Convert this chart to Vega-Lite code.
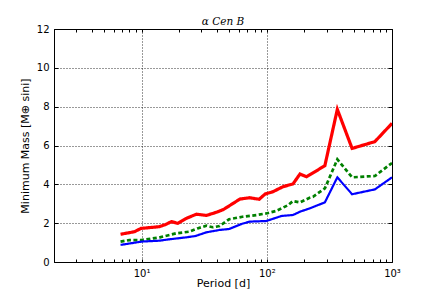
{
  "$schema": "https://vega.github.io/schema/vega-lite/v6.json",
  "autosize": "none",
  "width": 338,
  "height": 233,
  "padding": {"left": 54, "top": 29, "right": 44, "bottom": 29},
  "background": "white",
  "config": {
    "view": {"stroke": "black", "strokeWidth": 1},
    "axis": {"labelFont": "DejaVu Sans", "titleFont": "DejaVu Sans", "labelColor": "black", "titleColor": "black", "titleFontWeight": "normal", "tickColor": "black", "domain": false}
  },
  "title": {"text": "α Cen B", "font": "DejaVu Serif", "fontStyle": "italic", "fontWeight": "normal", "fontSize": 10.5, "offset": -3, "color": "black"},
  "data": {"values": [
    {"period": 6.8, "mass": 1.43, "s": "red"},
    {"period": 8.8, "mass": 1.56, "s": "red"},
    {"period": 9.9, "mass": 1.73, "s": "red"},
    {"period": 13.9, "mass": 1.82, "s": "red"},
    {"period": 15.7, "mass": 1.94, "s": "red"},
    {"period": 17.3, "mass": 2.08, "s": "red"},
    {"period": 19.5, "mass": 1.99, "s": "red"},
    {"period": 22.8, "mass": 2.25, "s": "red"},
    {"period": 27.4, "mass": 2.46, "s": "red"},
    {"period": 33, "mass": 2.4, "s": "red"},
    {"period": 40, "mass": 2.57, "s": "red"},
    {"period": 45, "mass": 2.7, "s": "red"},
    {"period": 61, "mass": 3.24, "s": "red"},
    {"period": 73, "mass": 3.31, "s": "red"},
    {"period": 87, "mass": 3.23, "s": "red"},
    {"period": 97, "mass": 3.5, "s": "red"},
    {"period": 112, "mass": 3.62, "s": "red"},
    {"period": 135, "mass": 3.88, "s": "red"},
    {"period": 162, "mass": 4.02, "s": "red"},
    {"period": 184, "mass": 4.53, "s": "red"},
    {"period": 208, "mass": 4.39, "s": "red"},
    {"period": 291, "mass": 4.96, "s": "red"},
    {"period": 366, "mass": 7.86, "s": "red"},
    {"period": 480, "mass": 5.85, "s": "red"},
    {"period": 730, "mass": 6.2, "s": "red"},
    {"period": 1000, "mass": 7.14, "s": "red"},
    {"period": 6.8, "mass": 1.05, "s": "green"},
    {"period": 8, "mass": 1.13, "s": "green"},
    {"period": 10, "mass": 1.13, "s": "green"},
    {"period": 14, "mass": 1.27, "s": "green"},
    {"period": 19, "mass": 1.48, "s": "green"},
    {"period": 24, "mass": 1.56, "s": "green"},
    {"period": 28, "mass": 1.73, "s": "green"},
    {"period": 33, "mass": 1.87, "s": "green"},
    {"period": 37, "mass": 1.79, "s": "green"},
    {"period": 42, "mass": 1.85, "s": "green"},
    {"period": 50, "mass": 2.2, "s": "green"},
    {"period": 64, "mass": 2.33, "s": "green"},
    {"period": 83, "mass": 2.42, "s": "green"},
    {"period": 99, "mass": 2.5, "s": "green"},
    {"period": 119, "mass": 2.63, "s": "green"},
    {"period": 148, "mass": 2.93, "s": "green"},
    {"period": 162, "mass": 3.14, "s": "green"},
    {"period": 184, "mass": 3.07, "s": "green"},
    {"period": 220, "mass": 3.31, "s": "green"},
    {"period": 234, "mass": 3.36, "s": "green"},
    {"period": 291, "mass": 3.79, "s": "green"},
    {"period": 366, "mass": 5.29, "s": "green"},
    {"period": 480, "mass": 4.36, "s": "green"},
    {"period": 730, "mass": 4.43, "s": "green"},
    {"period": 1000, "mass": 5.1, "s": "green"},
    {"period": 6.8, "mass": 0.88, "s": "blue"},
    {"period": 10, "mass": 1.05, "s": "blue"},
    {"period": 14, "mass": 1.1, "s": "blue"},
    {"period": 16.7, "mass": 1.17, "s": "blue"},
    {"period": 22.8, "mass": 1.27, "s": "blue"},
    {"period": 27, "mass": 1.34, "s": "blue"},
    {"period": 33, "mass": 1.53, "s": "blue"},
    {"period": 42, "mass": 1.65, "s": "blue"},
    {"period": 50, "mass": 1.7, "s": "blue"},
    {"period": 63, "mass": 1.96, "s": "blue"},
    {"period": 73, "mass": 2.08, "s": "blue"},
    {"period": 99, "mass": 2.11, "s": "blue"},
    {"period": 131, "mass": 2.37, "s": "blue"},
    {"period": 162, "mass": 2.42, "s": "blue"},
    {"period": 184, "mass": 2.59, "s": "blue"},
    {"period": 220, "mass": 2.76, "s": "blue"},
    {"period": 291, "mass": 3.07, "s": "blue"},
    {"period": 366, "mass": 4.36, "s": "blue"},
    {"period": 480, "mass": 3.49, "s": "blue"},
    {"period": 730, "mass": 3.74, "s": "blue"},
    {"period": 1000, "mass": 4.36, "s": "blue"}
  ]},
  "resolve": {"axis": {"x": "independent", "y": "independent"}},
  "layer": [
    {
      "mark": {"type": "line", "opacity": 0},
      "encoding": {
        "x": {"field": "period", "type": "quantitative",
          "scale": {"type": "log", "domain": [2, 1000], "nice": false},
          "axis": {"orient": "top", "labels": false, "title": null, "grid": false, "tickSize": -3,
            "values": [2,3,4,5,6,7,8,9,10,20,30,40,50,60,70,80,90,100,200,300,400,500,600,700,800,900,1000]}},
        "y": {"field": "mass", "type": "quantitative",
          "scale": {"domain": [0, 12], "nice": false, "zero": true},
          "axis": {"orient": "right", "labels": false, "title": null, "grid": false, "tickSize": -4, "values": [0,2,4,6,8,10,12]}},
        "detail": {"field": "s"}
      }
    },
    {
      "mark": {"type": "line", "strokeCap": "butt", "strokeJoin": "miter", "clip": true},
      "encoding": {
        "x": {"field": "period", "type": "quantitative",
          "scale": {"type": "log", "domain": [2, 1000], "nice": false},
          "axis": {"orient": "bottom", "title": "Period [d]", "titleFontSize": 11, "titlePadding": -1,
            "labelFontSize": 10, "labelPadding": 9, "tickSize": -3, "labelFlush": false,
            "labelExpr": "datum.value == 10 ? '10¹' : datum.value == 100 ? '10²' : datum.value == 1000 ? '10³' : ''",
            "grid": true, "gridColor": "black", "gridDash": [1, 2], "gridWidth": 1,
            "gridOpacity": {"condition": {"test": "indexof([10,100,1000], datum.value) >= 0", "value": 0.8}, "value": 0},
            "values": [2,3,4,5,6,7,8,9,10,20,30,40,50,60,70,80,90,100,200,300,400,500,600,700,800,900,1000]}},
        "y": {"field": "mass", "type": "quantitative",
          "scale": {"domain": [0, 12], "nice": false, "zero": true},
          "axis": {"orient": "left", "title": "Minimum Mass [M⊕ sini]", "titleFontSize": 11, "titlePadding": 6,
            "labelFontSize": 10, "labelPadding": 9, "tickSize": -4, "values": [0,2,4,6,8,10,12],
            "grid": true, "gridColor": "black", "gridDash": [1, 2], "gridWidth": 1, "gridOpacity": 0.8}},
        "color": {"field": "s", "type": "nominal", "legend": null,
          "scale": {"domain": ["red", "green", "blue"], "range": ["#ff0000", "#008000", "#0000ff"]}},
        "strokeWidth": {"field": "s", "type": "nominal", "legend": null,
          "scale": {"domain": ["red", "green", "blue"], "range": [3.2, 2.2, 1.1]}},
        "strokeDash": {"field": "s", "type": "nominal", "legend": null,
          "scale": {"domain": ["red", "green", "blue"], "range": [[1, 0], [4, 2.5], [1, 0]]}}
      }
    }
  ]
}
